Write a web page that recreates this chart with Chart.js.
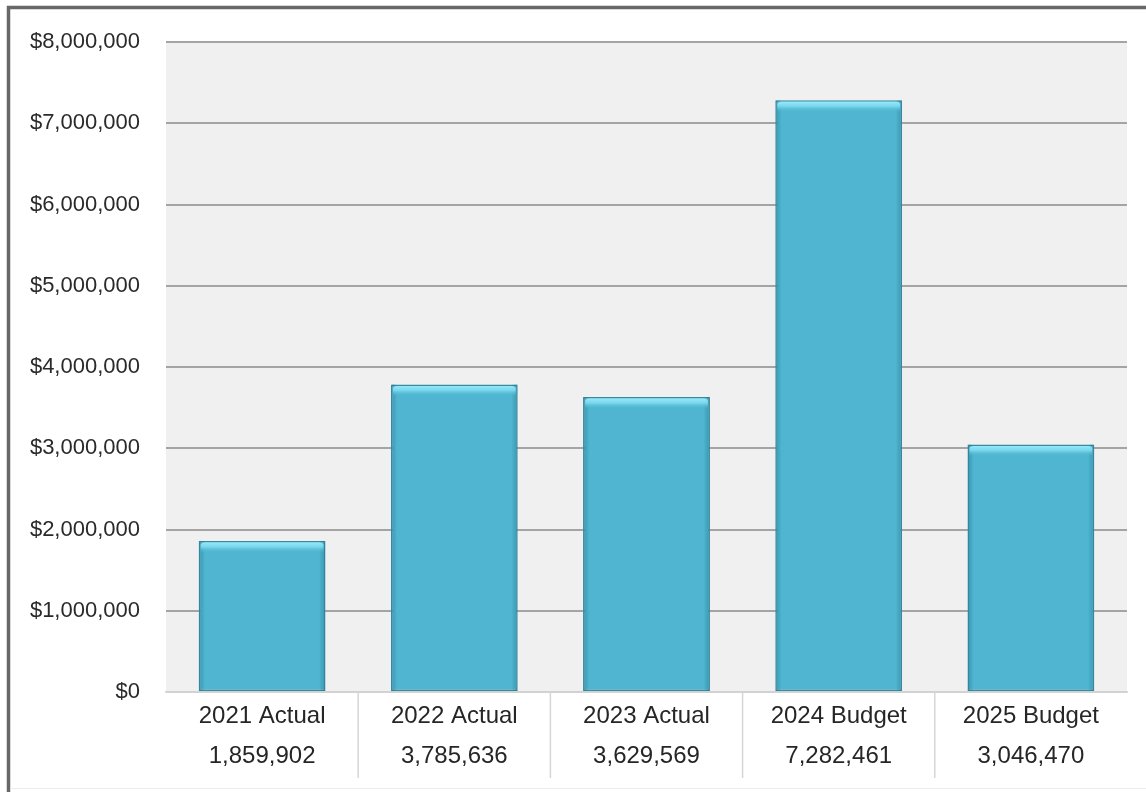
<!DOCTYPE html>
<html>
<head>
<meta charset="utf-8">
<script src="https://cdn.jsdelivr.net/npm/chart.js@4.4.1/dist/chart.umd.min.js"></script>
<style>
  html, body { margin: 0; padding: 0; background: #ffffff; }
  #wrap { width: 1146px; height: 792px; }
</style>
</head>
<body>
<div id="wrap"><canvas id="chart" width="1146" height="792"></canvas></div>
<script>
// categories and yearly totals
const categories = ["2021 Actual", "2022 Actual", "2023 Actual", "2024 Budget", "2025 Budget"];
const totals = [1859902, 3785636, 3629569, 7282461, 3046470];
const yTicks = [0, 1000000, 2000000, 3000000, 4000000, 5000000, 6000000, 7000000, 8000000];

const fmt = (v) => v.toLocaleString("en-US");

// two-line axis labels: name + amount
const xLabels = categories.map((c, i) => [c, fmt(totals[i])]);

// frame, plot background and column dividers under the axis
const panelPlugin = {
  id: "panel",
  beforeDraw(chart) {
    const { ctx, chartArea: a } = chart;
    ctx.save();
    ctx.fillStyle = "#ffffff";
    ctx.fillRect(0, 0, chart.width, chart.height);
    ctx.fillStyle = "#f0f0f0";
    ctx.fillRect(a.left, a.top, a.right - a.left, a.bottom - a.top);
    // outer frame
    ctx.strokeStyle = "#686868";
    ctx.lineWidth = 3.5;
    ctx.strokeRect(8.5, 7.5, chart.width + 20, chart.height + 20);
    ctx.strokeStyle = "#ececec";
    ctx.lineWidth = 1;
    ctx.beginPath();
    ctx.moveTo(10, 788.5);
    ctx.lineTo(chart.width, 788.5);
    ctx.stroke();
    ctx.restore();
  },
  afterDraw(chart) {
    const { ctx, chartArea: a } = chart;
    const x = chart.scales.x;
    ctx.save();
    ctx.strokeStyle = "#d6d6d6";
    ctx.lineWidth = 1.5;
    for (let i = 1; i < categories.length; i++) {
      const px = (x.getPixelForValue(i - 1) + x.getPixelForValue(i)) / 2;
      ctx.beginPath();
      ctx.moveTo(px, a.bottom);
      ctx.lineTo(px, 778);
      ctx.stroke();
    }
    ctx.restore();
  }
};

// bevelled top and shaded sides on each bar
const bevelPlugin = {
  id: "bevel",
  afterDatasetsDraw(chart) {
    const { ctx } = chart;
    const meta = chart.getDatasetMeta(0);
    ctx.save();
    meta.data.forEach((bar) => {
      const { x, y, width, base } = bar.getProps(["x", "y", "width", "base"], true);
      const l = x - width / 2;
      const r = x + width / 2;
      // side shading
      const side = ctx.createLinearGradient(l, 0, r, 0);
      side.addColorStop(0, "rgba(30,110,135,0.45)");
      side.addColorStop(0.05, "rgba(30,110,135,0)");
      side.addColorStop(0.95, "rgba(30,110,135,0)");
      side.addColorStop(1, "rgba(30,110,135,0.45)");
      ctx.fillStyle = side;
      ctx.fillRect(l + 1, y, width - 2, base - y);
      // light top edge
      const top = ctx.createLinearGradient(0, y, 0, y + 12);
      top.addColorStop(0, "rgba(160,240,252,1)");
      top.addColorStop(0.5, "rgba(125,218,240,0.9)");
      top.addColorStop(1, "rgba(78,180,206,0)");
      ctx.fillStyle = top;
      ctx.beginPath();
      ctx.moveTo(l + 2, y + 12);
      ctx.lineTo(l + 2, y + 4);
      ctx.quadraticCurveTo(l + 2, y + 1.5, l + 6, y + 1.5);
      ctx.lineTo(r - 6, y + 1.5);
      ctx.quadraticCurveTo(r - 2, y + 1.5, r - 2, y + 4);
      ctx.lineTo(r - 2, y + 12);
      ctx.closePath();
      ctx.fill();
    });
    ctx.restore();
  }
};

new Chart(document.getElementById("chart").getContext("2d"), {
  type: "bar",
  data: {
    labels: xLabels,
    datasets: [
      {
        data: totals,
        backgroundColor: "#4fb5d0",
        borderColor: "#378aa2",
        borderWidth: 1.5,
        borderSkipped: false,
        categoryPercentage: 1,
        barPercentage: 0.66,
      },
    ],
  },
  options: {
    responsive: false,
    maintainAspectRatio: false,
    animation: false,
    layout: { padding: { top: 42, right: 19, bottom: 0, left: 0 } },
    scales: {
      x: {
        afterFit(scale) { scale.height = 100; },
        grid: { display: false },
        border: { display: true, color: "#d2d2d2", width: 1.5 },
        ticks: {
          color: "#262626",
          padding: -4,
          font: { family: "'Liberation Sans', Arial, sans-serif", size: 24, lineHeight: 1.67 },
          maxRotation: 0,
        },
      },
      y: {
        min: 0,
        max: 8000000,
        afterFit(scale) { scale.width = 166; },
        afterBuildTicks(scale) { scale.ticks = yTicks.map((v) => ({ value: v })); },
        border: { display: false },
        grid: {
          drawTicks: false,
          lineWidth: 2,
          color: (c) => (c.index === 0 ? "#d2d2d2" : "#a4a4a4"),
        },
        ticks: {
          color: "#2a2a2a",
          padding: 26,
          font: { family: "'Liberation Sans', Arial, sans-serif", size: 22 },
          callback: (v) => "$" + fmt(v),
        },
      },
    },
    plugins: {
      legend: { display: false },
      tooltip: { enabled: false },
    },
  },
  plugins: [panelPlugin, bevelPlugin],
});
</script>
</body>
</html>
